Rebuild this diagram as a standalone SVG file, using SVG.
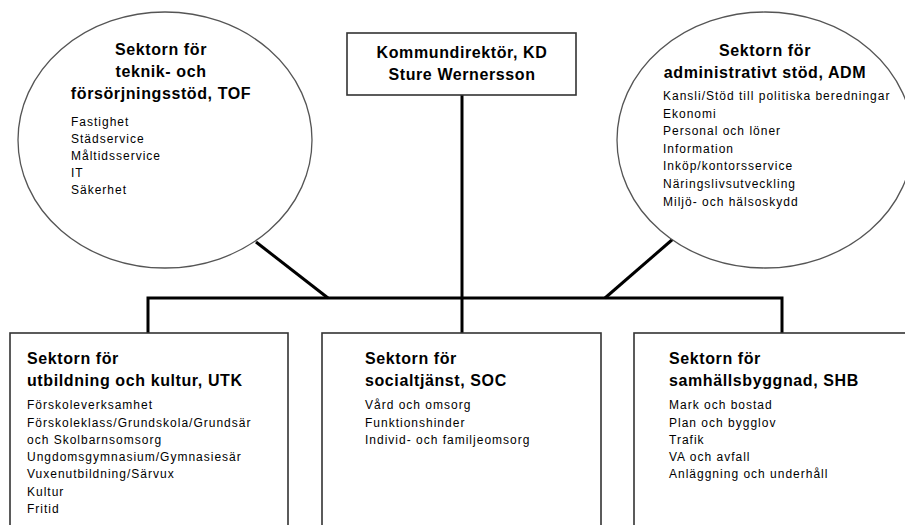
<svg xmlns="http://www.w3.org/2000/svg" width="905" height="525" viewBox="0 0 905 525">
  <style>
    .bg { fill: #ffffff; }
    .oval { fill: #ffffff; stroke: #555555; stroke-width: 1.3; }
    .box { fill: #ffffff; stroke: #333333; stroke-width: 1.6; }
    .conn { fill: none; stroke: #000000; stroke-width: 3; stroke-linejoin: miter; stroke-linecap: butt; }
    .title { font-family: "Liberation Sans", Arial, sans-serif; font-weight: bold; font-size: 16px; letter-spacing: 0.6px; fill: #000000; }
    .item { font-family: "Liberation Sans", Arial, sans-serif; font-size: 12px; letter-spacing: 1px; fill: #000000; }
    .mid { text-anchor: middle; }
  </style>
  <rect class="bg" x="0" y="0" width="905" height="525"/>
  <rect x="738" y="512" width="167" height="13" fill="#f7f7f7"/>

  <g id="connectors">
    <line class="conn" x1="462" y1="95" x2="462" y2="333"/>
    <polyline class="conn" points="148,333 148,298 782,298 782,333"/>
    <line class="conn" x1="256" y1="242" x2="328" y2="298"/>
    <line class="conn" x1="673" y1="239" x2="605" y2="298"/>
  </g>

  <g id="tof">
    <ellipse class="oval" cx="165" cy="140" rx="147" ry="128"/>
    <text class="title mid" x="161" y="55">Sektorn för</text>
    <text class="title mid" x="161" y="77">teknik- och</text>
    <text class="title mid" x="161" y="99">försörjningsstöd, TOF</text>
    <text class="item" x="71" y="126">Fastighet</text>
    <text class="item" x="71" y="143">Städservice</text>
    <text class="item" x="71" y="160">Måltidsservice</text>
    <text class="item" x="71" y="177">IT</text>
    <text class="item" x="71" y="194">Säkerhet</text>
  </g>

  <g id="kd">
    <rect class="box" x="347" y="33" width="229" height="62"/>
    <text class="title mid" x="462" y="58">Kommundirektör, KD</text>
    <text class="title mid" x="462" y="80">Sture Wernersson</text>
  </g>

  <g id="adm">
    <ellipse class="oval" cx="765" cy="140" rx="148" ry="128"/>
    <text class="title mid" x="765" y="56">Sektorn för</text>
    <text class="title mid" x="765" y="78">administrativt stöd, ADM</text>
    <text class="item" x="663" y="100">Kansli/Stöd till politiska beredningar</text>
    <text class="item" x="663" y="118">Ekonomi</text>
    <text class="item" x="663" y="135">Personal och löner</text>
    <text class="item" x="663" y="153">Information</text>
    <text class="item" x="663" y="170">Inköp/kontorsservice</text>
    <text class="item" x="663" y="188">Näringslivsutveckling</text>
    <text class="item" x="663" y="206">Miljö- och hälsoskydd</text>
  </g>

  <g id="utk">
    <rect class="box" x="10" y="333" width="278" height="200"/>
    <text class="title" x="27" y="364">Sektorn för</text>
    <text class="title" x="27" y="386">utbildning och kultur, UTK</text>
    <text class="item" x="27" y="409">Förskoleverksamhet</text>
    <text class="item" x="27" y="427">Förskoleklass/Grundskola/Grundsär</text>
    <text class="item" x="27" y="444">och Skolbarnsomsorg</text>
    <text class="item" x="27" y="461">Ungdomsgymnasium/Gymnasiesär</text>
    <text class="item" x="27" y="478">Vuxenutbildning/Särvux</text>
    <text class="item" x="27" y="496">Kultur</text>
    <text class="item" x="27" y="513">Fritid</text>
  </g>

  <g id="soc">
    <rect class="box" x="322" y="333" width="279" height="200"/>
    <text class="title" x="365" y="364">Sektorn för</text>
    <text class="title" x="365" y="386">socialtjänst, SOC</text>
    <text class="item" x="365" y="409">Vård och omsorg</text>
    <text class="item" x="365" y="427">Funktionshinder</text>
    <text class="item" x="365" y="444">Individ- och familjeomsorg</text>
  </g>

  <g id="shb">
    <rect class="box" x="634" y="333" width="280" height="200"/>
    <text class="title" x="669" y="364">Sektorn för</text>
    <text class="title" x="669" y="386">samhällsbyggnad, SHB</text>
    <text class="item" x="669" y="409">Mark och bostad</text>
    <text class="item" x="669" y="427">Plan och bygglov</text>
    <text class="item" x="669" y="444">Trafik</text>
    <text class="item" x="669" y="461">VA och avfall</text>
    <text class="item" x="669" y="478">Anläggning och underhåll</text>
  </g>
</svg>
